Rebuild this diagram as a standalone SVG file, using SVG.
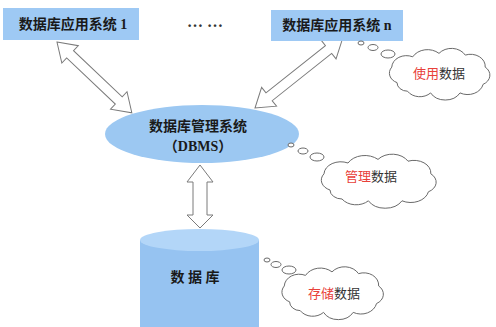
<svg xmlns="http://www.w3.org/2000/svg" width="496" height="327" viewBox="0 0 496 327">
<style>
.box{fill:#9ec9f4}
.btxt{font-family:"Liberation Serif","Noto Sans CJK SC",serif;font-weight:bold;font-size:14px;fill:#1a1a1a}
.arrow{fill:#ffffff;stroke:#7a7a7a;stroke-width:1}
.cloud{fill:#ffffff;stroke:#6a6a6a;stroke-width:1}
.ctxt{font-family:"Noto Sans CJK SC",sans-serif;font-size:13px;fill:#333333}
.red{fill:#e8413a}
</style>
<defs>
<path id="cloudShape" vector-effect="non-scaling-stroke" d="M -40,10 A 12 12 0 0 1 -45,-8 A 14 14 0 0 1 -25,-20 A 16 16 0 0 1 0,-24 A 15 15 0 0 1 25,-22 A 14 14 0 0 1 44,-8 A 12 12 0 0 1 42,12 A 15 15 0 0 1 20,22 A 16 16 0 0 1 -8,22 A 14 14 0 0 1 -30,20 A 10 10 0 0 1 -40,10 Z"/>
</defs>
<rect width="496" height="327" fill="#ffffff"/>

<g id="connectors">
<polygon class="arrow" transform="translate(57,42) rotate(43.4)" points="0,0 18,-12 18,-5 85,-5 85,-12 103,0 85,12 85,5 18,5 18,12"/>
<polygon class="arrow" transform="translate(255,108) rotate(-38.5)" points="0,0 18,-12 18,-5 94,-5 94,-12 112,0 94,12 94,5 18,5 18,12"/>
<polygon class="arrow" transform="translate(200,165) rotate(90)" points="0,0 17,-13 17,-7 50,-7 50,-13 63,0 50,13 50,7 17,7 17,13"/>
</g>

<g id="app1">
<rect class="box" x="3" y="8" width="136" height="32"/>
<text class="btxt" x="73" y="29" text-anchor="middle">数据库应用系统 1</text>
</g>

<g id="dots">
<text x="187" y="27" font-family="Liberation Serif,serif" font-weight="bold" font-size="16" fill="#333">… …</text>
</g>

<g id="appn">
<rect class="box" x="271" y="10" width="132" height="31"/>
<text class="btxt" x="337" y="30" text-anchor="middle">数据库应用系统 n</text>
</g>

<g id="dbms">
<ellipse cx="202" cy="134" rx="97" ry="29" fill="#9cc8f2"/>
<text class="btxt" x="198" y="131" text-anchor="middle">数据库管理系统</text>
<text class="btxt" x="198" y="151" text-anchor="middle">（DBMS）</text>
</g>

<g id="database">
<rect x="140" y="240" width="119" height="95" fill="#96c3f1"/>
<ellipse cx="199.5" cy="240" rx="59.5" ry="11" fill="#b3d6f8"/>
<text class="btxt" x="195" y="282" text-anchor="middle">数 据 库</text>
</g>

<g id="cloud-use">
<ellipse cx="361" cy="43" rx="3" ry="2" class="cloud"/>
<ellipse cx="373" cy="47.5" rx="5" ry="3" class="cloud"/>
<ellipse cx="388" cy="54" rx="7" ry="4" class="cloud"/>
<use href="#cloudShape" class="cloud" transform="translate(439,74) scale(1.05,0.86)"/>
<text class="ctxt" x="439" y="78" text-anchor="middle"><tspan class="red">使用</tspan>数据</text>
</g>

<g id="cloud-manage">
<ellipse cx="291" cy="145" rx="3" ry="2" class="cloud"/>
<ellipse cx="303" cy="151" rx="5" ry="3" class="cloud"/>
<ellipse cx="317" cy="157" rx="7" ry="4" class="cloud"/>
<use href="#cloudShape" class="cloud" transform="translate(378,181) scale(1.2,0.9)"/>
<text class="ctxt" x="371" y="181" text-anchor="middle"><tspan class="red">管理</tspan>数据</text>
</g>

<g id="cloud-store">
<ellipse cx="267" cy="260" rx="3" ry="2" class="cloud"/>
<ellipse cx="276" cy="264.5" rx="5" ry="3" class="cloud"/>
<ellipse cx="289" cy="270" rx="7" ry="4" class="cloud"/>
<use href="#cloudShape" class="cloud" transform="translate(332,293) scale(1.06,0.88)"/>
<text class="ctxt" x="334" y="298" text-anchor="middle"><tspan class="red">存储</tspan>数据</text>
</g>
</svg>
